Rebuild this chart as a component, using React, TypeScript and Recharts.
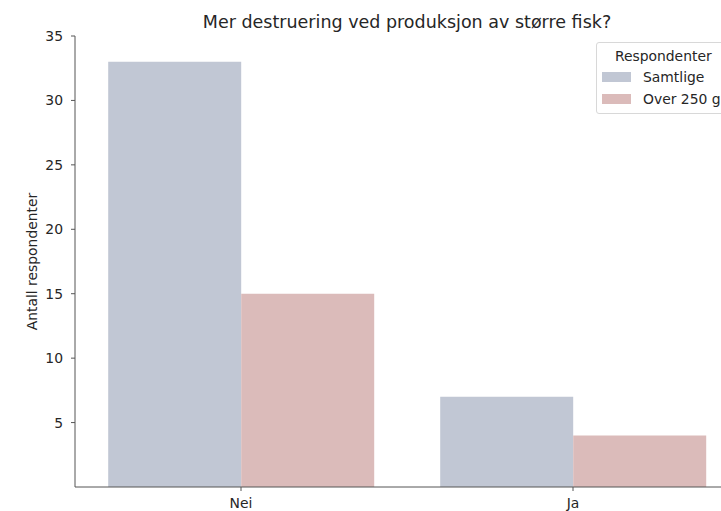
import { Bar, BarChart, XAxis, YAxis } from "recharts";

const categories = ["Nei", "Ja"];
const samtlige = [33, 7];
const over250g = [15, 4];
const yTicks = [5, 10, 15, 20, 25, 30, 35];

const series = [
  { key: "samtlige", name: "Samtlige", color: "#c1c7d4" },
  { key: "over250g", name: "Over 250 g", color: "#dbbbba" },
];

const data = categories.map((name, i) => ({
  name,
  samtlige: samtlige[i],
  over250g: over250g[i],
}));

const FONT = "'DejaVu Sans', sans-serif";
const TEXT = "#262626";
const AXIS = "#555555";

const LegendBox = () => (
  <div
    style={{
      position: "absolute",
      top: 42,
      left: 596,
      border: "1px solid #d8d8d8",
      borderRadius: 3,
      padding: "3px 8px 3px 5px",
      background: "#fff",
      fontFamily: FONT,
      fontSize: 13.9,
      color: TEXT,
      whiteSpace: "nowrap",
    }}
  >
    <div style={{ textAlign: "center", paddingLeft: 4, lineHeight: "20px" }}>Respondenter</div>
    {series.map((s) => (
      <div key={s.key} style={{ display: "flex", alignItems: "center", height: 22 }}>
        <span style={{ display: "inline-block", width: 29, height: 10, background: s.color, marginRight: 12 }} />
        <span>{s.name}</span>
      </div>
    ))}
  </div>
);

// eslint-disable-next-line @typescript-eslint/no-explicit-any
const YLabel = ({ viewBox }: any) => {
  const cx = 32;
  const cy = viewBox.y + viewBox.height / 2;
  return (
    <text
      x={cx}
      y={cy}
      transform={`rotate(-90 ${cx} ${cy})`}
      textAnchor="middle"
      dominantBaseline="central"
      fill={TEXT}
      fontSize={13.9}
      fontFamily={FONT}
    >
      Antall respondenter
    </text>
  );
};

export default function App() {
  return (
    <div
      style={{
        position: "absolute",
        left: 0,
        top: 0,
        width: 721,
        height: 511,
        overflow: "hidden",
        background: "#fff",
        fontFamily: FONT,
      }}
    >
      <div
        style={{
          position: "absolute",
          left: 107,
          width: 600,
          top: 12,
          textAlign: "center",
          fontSize: 17.5,
          color: TEXT,
          lineHeight: "20px",
        }}
      >
        Mer destruering ved produksjon av større fisk?
      </div>
      <BarChart
        width={760}
        height={511}
        data={data}
        margin={{ top: 36, right: 21, left: 0, bottom: 0 }}
        barCategoryGap="10%"
        barGap={0}
      >
        <XAxis
          dataKey="name"
          height={24}
          tickSize={4}
          tickMargin={7}
          stroke={AXIS}
          tick={{ fill: TEXT, fontSize: 13.9, fontFamily: FONT }}
        />
        <YAxis
          width={75}
          domain={[0, 35]}
          ticks={yTicks}
          tickSize={4}
          tickMargin={8}
          stroke={AXIS}
          tick={{ fill: TEXT, fontSize: 13.9, fontFamily: FONT }}
          label={<YLabel />}
        />
        {series.map((s) => (
          <Bar key={s.key} dataKey={s.key} name={s.name} fill={s.color} isAnimationActive={false} />
        ))}
      </BarChart>
      <LegendBox />
    </div>
  );
}
